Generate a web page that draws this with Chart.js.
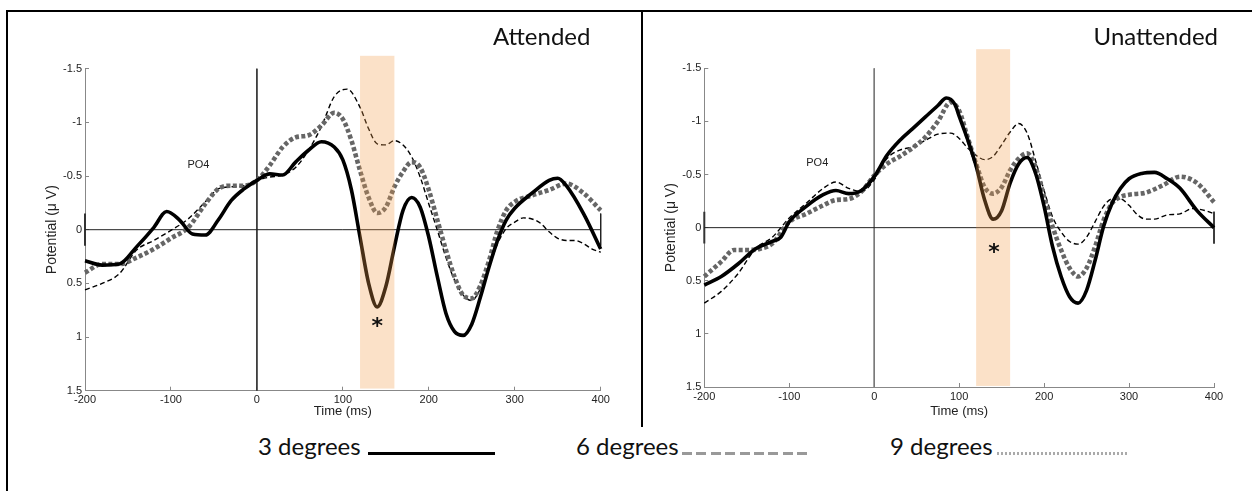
<!DOCTYPE html>
<html>
<head>
<meta charset="utf-8">
<script src="https://cdn.jsdelivr.net/npm/chart.js@4.4.1/dist/chart.umd.min.js"></script>
<style>
  html, body { margin: 0; padding: 0; background: #fff; }
  #stage { position: relative; width: 1252px; height: 491px; overflow: hidden; background: #fff; font-family: Lato, "Open Sans", sans-serif; color: #111; }
  .rule { position: absolute; background: #000; }
  canvas { position: absolute; top: 0; }
  #cAtt { left: 0; }
  #cUn { left: 643px; }
  .title { position: absolute; font-size: 24px; line-height: 24px; white-space: nowrap; }
  .legtext { position: absolute; font-size: 24px; line-height: 24px; white-space: nowrap; }
  .legline { position: absolute; height: 3px; }
</style>
</head>
<body>
<div id="stage">
  <div class="rule" style="left:6px;top:10px;width:1246px;height:2px;"></div>
  <div class="rule" style="left:6px;top:10px;width:2px;height:481px;"></div>
  <div class="rule" style="left:641px;top:10px;width:2px;height:417px;"></div>

  <canvas id="cAtt" width="641" height="430"></canvas>
  <canvas id="cUn" width="609" height="430"></canvas>

  <div class="title" id="tAtt" style="left:493px;top:24px;"></div>
  <div class="title" id="tUn" style="right:34px;top:24px;"></div>

  <div class="legtext" id="leg3" style="left:258px;top:434px;"></div>
  <div class="legline" style="left:368px;top:452px;width:127px;background:#000;"></div>
  <div class="legtext" id="leg6" style="left:576px;top:434px;"></div>
  <div class="legline" style="left:682px;top:452px;width:130px;background:repeating-linear-gradient(90deg,#999 0 10px,transparent 10px 14.4px);"></div>
  <div class="legtext" id="leg9" style="left:890px;top:434px;"></div>
  <div class="legline" style="left:997px;top:452px;width:130px;background:repeating-linear-gradient(90deg,#aaa 0 2.5px,transparent 2.5px 4px);"></div>
</div>

<script>
// ---- Panel and legend text ----
const panelTitles = ['Attended', 'Unattended'];
const legendLabels = ['3 degrees', '6 degrees', '9 degrees'];
const channelLabel = 'PO4';
const xAxisTitle = 'Time (ms)';
const yAxisTitle = 'Potential (\u03bc V)';

// ---- Axis ranges and ticks ----
const timeMin = -200, timeMax = 400, timeStep = 100;
const potMin = -1.5, potMax = 1.5, potStep = 0.5;

// ---- Highlighted analysis window (ms) ----
const windowStart = 120, windowEnd = 160;
const attWindowSpan = [-1.62, 1.48];
const unWindowSpan = [-1.68, 1.49];

// ---- Attended: 3 degrees ----
const att3T = [-200,-180,-160,-140,-120,-105,-90,-75,-60,-45,-30,-15,0,15,30,45,60,75,90,100,110,120,130,140,150,160,170,180,190,200,210,220,230,240,250,260,270,280,290,300,320,340,350,360,380,400];
const att3V = [0.29,0.33,0.32,0.16,-0.02,-0.17,-0.09,0.04,0.05,-0.09,-0.27,-0.38,-0.46,-0.52,-0.51,-0.63,-0.74,-0.82,-0.77,-0.65,-0.37,0.07,0.50,0.72,0.53,0.16,-0.18,-0.30,-0.21,0.07,0.44,0.78,0.95,0.985,0.88,0.63,0.35,0.10,-0.09,-0.20,-0.34,-0.46,-0.48,-0.41,-0.15,0.18];

// ---- Attended: 6 degrees ----
const att6T = [-200,-180,-160,-140,-120,-100,-80,-60,-45,-30,-15,0,15,30,45,60,75,90,100,110,120,130,140,150,160,170,180,190,200,210,220,230,240,250,260,270,280,290,300,320,340,360,380,400];
const att6V = [0.40,0.32,0.32,0.26,0.18,0.08,-0.02,-0.24,-0.38,-0.41,-0.41,-0.46,-0.60,-0.77,-0.86,-0.88,-0.97,-1.09,-1.03,-0.83,-0.55,-0.30,-0.155,-0.21,-0.40,-0.54,-0.63,-0.58,-0.37,-0.09,0.19,0.44,0.61,0.64,0.52,0.29,0.006,-0.18,-0.26,-0.32,-0.37,-0.43,-0.34,-0.18];

// ---- Attended: 9 degrees ----
const att9T = [-200,-180,-160,-140,-120,-100,-80,-60,-45,-30,-15,0,15,30,45,60,75,90,105,120,130,140,150,160,170,180,190,200,210,220,230,240,250,260,270,280,290,300,310,320,330,340,350,360,370,380,390,400];
const att9V = [0.56,0.50,0.41,0.19,0.10,0.006,-0.10,-0.26,-0.38,-0.40,-0.41,-0.46,-0.49,-0.51,-0.58,-0.74,-0.96,-1.24,-1.31,-1.14,-0.94,-0.80,-0.79,-0.83,-0.79,-0.68,-0.49,-0.24,0.006,0.26,0.47,0.61,0.66,0.55,0.35,0.13,-0.01,-0.07,-0.11,-0.10,-0.06,0.02,0.08,0.10,0.10,0.13,0.18,0.21];

// ---- Unattended: 3 degrees ----
const un3T = [-200,-180,-160,-140,-120,-110,-100,-80,-60,-45,-30,-15,0,15,30,45,60,75,85,95,100,110,120,130,140,150,160,170,180,190,200,210,220,230,240,250,260,270,280,290,300,315,330,345,360,380,400];
const un3V = [0.54,0.46,0.34,0.20,0.13,0.09,-0.055,-0.20,-0.31,-0.35,-0.32,-0.35,-0.48,-0.68,-0.82,-0.93,-1.04,-1.15,-1.22,-1.16,-1.05,-0.83,-0.58,-0.26,-0.08,-0.16,-0.42,-0.60,-0.66,-0.51,-0.20,0.18,0.46,0.65,0.71,0.59,0.31,-0.01,-0.23,-0.37,-0.46,-0.51,-0.52,-0.46,-0.37,-0.16,0.0];

// ---- Unattended: 6 degrees ----
const un6T = [-200,-180,-165,-150,-135,-120,-100,-80,-60,-45,-30,-15,0,15,30,45,60,75,90,100,110,120,130,140,150,160,170,180,190,200,210,220,230,240,250,260,270,280,290,300,320,340,360,380,400];
const un6V = [0.46,0.32,0.21,0.21,0.20,0.15,-0.055,-0.13,-0.21,-0.26,-0.27,-0.34,-0.49,-0.60,-0.67,-0.75,-0.85,-1.0,-1.18,-1.10,-0.85,-0.60,-0.38,-0.32,-0.38,-0.54,-0.65,-0.70,-0.57,-0.29,-0.01,0.21,0.38,0.46,0.38,0.18,-0.07,-0.23,-0.29,-0.31,-0.33,-0.40,-0.48,-0.42,-0.24];

// ---- Unattended: 9 degrees ----
const un9T = [-200,-180,-160,-140,-120,-100,-80,-60,-45,-30,-15,0,15,30,45,60,75,90,100,110,120,130,140,150,160,170,180,190,200,210,220,230,240,250,260,270,280,290,300,310,320,330,345,360,375,390,400];
const un9V = [0.71,0.60,0.43,0.20,0.09,-0.09,-0.23,-0.37,-0.43,-0.37,-0.34,-0.45,-0.65,-0.73,-0.76,-0.82,-0.88,-0.89,-0.84,-0.75,-0.68,-0.64,-0.67,-0.78,-0.90,-0.98,-0.89,-0.63,-0.35,-0.10,0.04,0.13,0.155,0.09,-0.055,-0.20,-0.27,-0.27,-0.21,-0.12,-0.08,-0.08,-0.12,-0.13,-0.18,-0.16,-0.13];

// ---- Marker positions (ms, µV) ----
const attStarAt = [140, 0.86];
const unStarAt = [141, 0.19];
const attChannelAt = [-68, -0.60];
const unChannelAt = [-67, -0.61];
const scaleBarSpan = [-0.15, 0.15];

// ---- HTML text ----
document.getElementById('tAtt').textContent = panelTitles[0];
document.getElementById('tUn').textContent = panelTitles[1];
document.getElementById('leg3').textContent = legendLabels[0];
document.getElementById('leg6').textContent = legendLabels[1];
document.getElementById('leg9').textContent = legendLabels[2];

const pts = (t, v) => t.map((x, i) => ({ x, y: v[i] }));

// Shaded window, channel label and asterisk drawn on top of the traces
const panelMarks = {
  id: 'panelMarks',
  afterDatasetsDraw(chart, args, opts) {
    const { ctx } = chart;
    const xs = chart.scales.x, ys = chart.scales.y;
    ctx.save();
    const x0 = xs.getPixelForValue(opts.windowStart);
    const x1 = xs.getPixelForValue(opts.windowEnd);
    const y0 = ys.getPixelForValue(opts.windowSpan[0]);
    const y1 = ys.getPixelForValue(opts.windowSpan[1]);
    ctx.fillStyle = 'rgba(242,155,72,0.30)';
    ctx.fillRect(x0, y0, x1 - x0, y1 - y0);

    ctx.fillStyle = '#222';
    ctx.font = '11px "Liberation Sans", Arial, sans-serif';
    ctx.textAlign = 'center';
    ctx.textBaseline = 'middle';
    ctx.fillText(opts.channel, xs.getPixelForValue(opts.channelAt[0]), ys.getPixelForValue(opts.channelAt[1]));

    ctx.fillStyle = '#111';
    ctx.font = 'bold 22px "DejaVu Sans", sans-serif';
    ctx.textBaseline = 'alphabetic';
    const m = ctx.measureText('*');
    const cy = ys.getPixelForValue(opts.starAt[1]) + (m.actualBoundingBoxAscent - m.actualBoundingBoxDescent) / 2;
    ctx.fillText('*', xs.getPixelForValue(opts.starAt[0]), cy);
    ctx.restore();
  }
};

function buildPanel(canvasId, s3, s6, s9, marks, layout) {
  const refLine = (data, color) => ({
    data, borderColor: color, borderWidth: 1, pointRadius: 0, tension: 0, clip: false
  });
  return new Chart(document.getElementById(canvasId), {
    type: 'line',
    data: {
      datasets: [
        { data: s3, borderColor: '#000', borderWidth: 3.6, pointRadius: 0,
          cubicInterpolationMode: 'monotone', clip: false },
        { data: s6, borderColor: '#666', borderWidth: 4.6, borderDash: [4, 2.4], pointRadius: 0,
          cubicInterpolationMode: 'monotone', clip: false },
        { data: s9, borderColor: '#000', borderWidth: 1.4, borderDash: [5, 3], pointRadius: 0,
          cubicInterpolationMode: 'monotone', clip: false },
        refLine([{ x: timeMin, y: 0 }, { x: timeMax, y: 0 }], '#222'),
        refLine([{ x: 0, y: potMin }, { x: 0, y: potMax }], layout.zeroColor),
        Object.assign(refLine([{ x: timeMin, y: scaleBarSpan[0] }, { x: timeMin, y: scaleBarSpan[1] }], '#333'), { borderWidth: 2 }),
        refLine([{ x: timeMax, y: scaleBarSpan[0] }, { x: timeMax, y: scaleBarSpan[1] }], '#222')
      ]
    },
    options: {
      responsive: false,
      animation: false,
      devicePixelRatio: 1,
      events: [],
      layout: { padding: layout.padding },
      plugins: {
        legend: { display: false },
        tooltip: { enabled: false },
        panelMarks: marks
      },
      scales: {
        x: {
          type: 'linear', min: timeMin, max: timeMax,
          afterFit: (s) => { s.height = layout.xHeight; },
          ticks: { stepSize: timeStep, padding: 7, color: '#222', maxRotation: 0, autoSkip: false,
                   font: { family: '"Liberation Sans", Arial, sans-serif', size: 11 },
                   callback: (v) => String(v) },
          grid: { drawOnChartArea: false, drawTicks: true, tickLength: -4, color: '#888' },
          border: { display: true, color: '#888', width: 1 },
          title: { display: true, text: xAxisTitle, color: '#222', padding: 0,
                   font: { family: '"Liberation Sans", Arial, sans-serif', size: 13 } }
        },
        y: {
          type: 'linear', min: potMin, max: potMax, reverse: true,
          afterFit: (s) => { s.width = layout.yWidth; },
          ticks: { stepSize: potStep, padding: 7, color: '#222', autoSkip: false,
                   font: { family: '"Liberation Sans", Arial, sans-serif', size: 11 },
                   callback: (v) => String(v) },
          grid: { drawOnChartArea: false, drawTicks: true, tickLength: -4, color: '#888' },
          border: { display: true, color: '#888', width: 1 },
          title: { display: true, text: yAxisTitle, color: '#222', padding: 0,
                   font: { family: '"Liberation Sans", Arial, sans-serif', size: 14 } }
        }
      }
    },
    plugins: [panelMarks]
  });
}

buildPanel('cAtt', pts(att3T, att3V), pts(att6T, att6V), pts(att9T, att9V),
  { windowStart, windowEnd, windowSpan: attWindowSpan, channel: channelLabel,
    channelAt: attChannelAt, starAt: attStarAt },
  { padding: { left: 43.6, top: 68.7, right: 40.3, bottom: 11.2 },
    yWidth: 41.4, xHeight: 28.1, zeroColor: '#333' });

buildPanel('cUn', pts(un3T, un3V), pts(un6T, un6V), pts(un9T, un9V),
  { windowStart, windowEnd, windowSpan: unWindowSpan, channel: channelLabel,
    channelAt: unChannelAt, starAt: unStarAt },
  { padding: { left: 19.3, top: 68.3, right: 38, bottom: 11.2 },
    yWidth: 42, xHeight: 31.8, zeroColor: '#777' });
</script>
</body>
</html>
